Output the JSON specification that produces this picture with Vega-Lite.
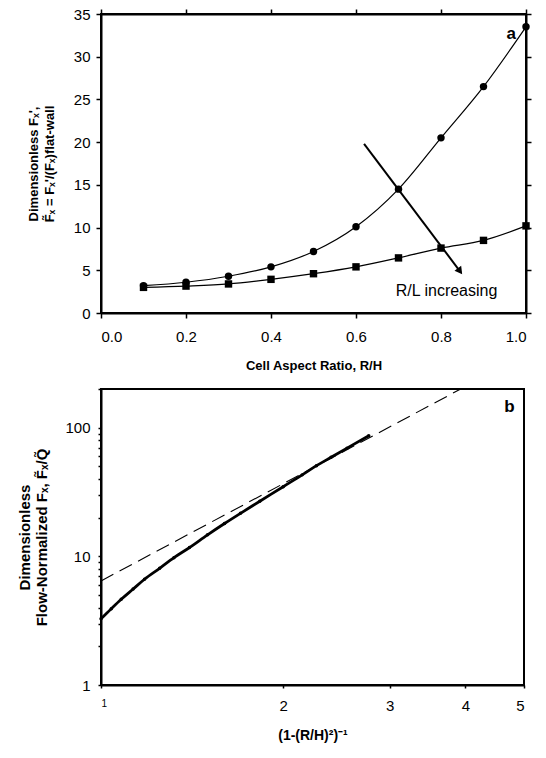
{
  "$schema": "https://vega.github.io/schema/vega-lite/v6.json",
  "background": "white",
  "padding": {"left": 16, "top": 6, "right": 5, "bottom": 5},
  "bounds": "flush",
  "spacing": 76,
  "config": {
    "font": "Liberation Sans",
    "view": {"stroke": "black", "strokeWidth": 2},
    "axis": {
      "domainColor": "black", "domainWidth": 2, "tickColor": "black", "tickWidth": 1.5,
      "tickSize": 5, "labelColor": "black", "labelFont": "Liberation Sans", "labelFontSize": 15,
      "titleColor": "black", "titleFont": "Liberation Sans", "titleFontWeight": "bold", "grid": false
    }
  },
  "vconcat": [
    {
      "width": 425,
      "height": 299,
      "data": {"values": [
        {"r": 0.1, "f": 3.2, "series": "upper"},
        {"r": 0.2, "f": 3.6, "series": "upper"},
        {"r": 0.3, "f": 4.3, "series": "upper"},
        {"r": 0.4, "f": 5.4, "series": "upper"},
        {"r": 0.5, "f": 7.2, "series": "upper"},
        {"r": 0.6, "f": 10.1, "series": "upper"},
        {"r": 0.7, "f": 14.5, "series": "upper"},
        {"r": 0.8, "f": 20.5, "series": "upper"},
        {"r": 0.9, "f": 26.5, "series": "upper"},
        {"r": 1.0, "f": 33.5, "series": "upper"},
        {"r": 0.1, "f": 3.0, "series": "lower"},
        {"r": 0.2, "f": 3.15, "series": "lower"},
        {"r": 0.3, "f": 3.4, "series": "lower"},
        {"r": 0.4, "f": 3.94, "series": "lower"},
        {"r": 0.5, "f": 4.6, "series": "lower"},
        {"r": 0.6, "f": 5.4, "series": "lower"},
        {"r": 0.7, "f": 6.45, "series": "lower"},
        {"r": 0.8, "f": 7.6, "series": "lower"},
        {"r": 0.9, "f": 8.5, "series": "lower"},
        {"r": 1.0, "f": 10.2, "series": "lower"}
      ]},
      "layer": [
        {
          "mark": {"type": "line", "interpolate": "monotone", "color": "black", "strokeWidth": 1.2},
          "encoding": {
            "x": {"field": "r", "type": "quantitative", "scale": {"domain": [0, 1], "nice": false},
              "axis": {"orient": "bottom", "values": [0, 0.2, 0.4, 0.6, 0.8, 1.0], "format": ".1f",
                "labelPadding": 11, "title": "Cell Aspect Ratio, R/H", "titleFontSize": 13, "titlePadding": 15}},
            "y": {"field": "f", "type": "quantitative", "scale": {"domain": [0, 35], "nice": false},
              "axis": {"orient": "left", "values": [0, 5, 10, 15, 20, 25, 30, 35], "labelPadding": 6,
                "title": ["Dimensionless Fₓ',", "F̃ₓ = Fₓ'/(Fₓ)flat-wall"], "titleFontSize": 13, "titlePadding": 17, "titleLineHeight": 16}},
            "detail": {"field": "series", "type": "nominal"}
          }
        },
        {
          "mark": {"type": "point", "filled": true, "color": "black", "opacity": 1},
          "encoding": {
            "x": {"field": "r", "type": "quantitative",
              "axis": {"orient": "top", "values": [0, 0.2, 0.4, 0.6, 0.8, 1.0], "labels": false, "title": null}},
            "y": {"field": "f", "type": "quantitative",
              "axis": {"orient": "right", "values": [0, 5, 10, 15, 20, 25, 30, 35], "labels": false, "title": null}},
            "shape": {"field": "series", "type": "nominal", "scale": {"domain": ["upper", "lower"], "range": ["circle", "square"]}, "legend": null},
            "size": {"value": 55}
          }
        },
        {
          "data": {"values": [{"x": 0.619, "y": 19.8, "x2": 0.843, "y2": 5.0}]},
          "mark": {"type": "rule", "color": "black", "strokeWidth": 2},
          "encoding": {
            "x": {"field": "x", "type": "quantitative", "axis": null},
            "y": {"field": "y", "type": "quantitative", "axis": null},
            "x2": {"field": "x2"},
            "y2": {"field": "y2"}
          }
        },
        {
          "data": {"values": [{"x": 0.843, "y": 5.0}]},
          "mark": {"type": "point", "shape": "triangle", "filled": true, "color": "black", "opacity": 1, "size": 70, "angle": 143},
          "encoding": {
            "x": {"field": "x", "type": "quantitative", "axis": null},
            "y": {"field": "y", "type": "quantitative", "axis": null}
          }
        },
        {
          "data": {"values": [{"x": 0.813, "y": 2.6, "t": "R/L increasing"}]},
          "mark": {"type": "text", "fontSize": 16, "color": "black", "align": "center", "baseline": "middle"},
          "encoding": {
            "x": {"field": "x", "type": "quantitative", "axis": null},
            "y": {"field": "y", "type": "quantitative", "axis": null},
            "text": {"field": "t"}
          }
        },
        {
          "data": {"values": [{"x": 0.965, "y": 32.7, "t": "a"}]},
          "mark": {"type": "text", "fontSize": 17, "fontWeight": "bold", "color": "black", "align": "center", "baseline": "middle"},
          "encoding": {
            "x": {"field": "x", "type": "quantitative", "axis": null},
            "y": {"field": "y", "type": "quantitative", "axis": null},
            "text": {"field": "t"}
          }
        }
      ],
      "resolve": {"axis": {"x": "independent", "y": "independent"}}
    },
    {
      "width": 423,
      "height": 296,
      "data": {"values": [
        {"x": 1.0, "y": 6.44, "series": "asymptote"},
        {"x": 3.93, "y": 200, "series": "asymptote"},
        {"x": 1.0, "y": 3.27, "series": "exact"},
        {"x": 1.04, "y": 3.92, "series": "exact"},
        {"x": 1.08, "y": 4.64, "series": "exact"},
        {"x": 1.13, "y": 5.57, "series": "exact"},
        {"x": 1.18, "y": 6.64, "series": "exact"},
        {"x": 1.25, "y": 8.07, "series": "exact"},
        {"x": 1.32, "y": 9.77, "series": "exact"},
        {"x": 1.4, "y": 11.7, "series": "exact"},
        {"x": 1.5, "y": 14.7, "series": "exact"},
        {"x": 1.6, "y": 18.0, "series": "exact"},
        {"x": 1.7, "y": 21.6, "series": "exact"},
        {"x": 1.83, "y": 26.8, "series": "exact"},
        {"x": 2.0, "y": 34.8, "series": "exact"},
        {"x": 2.15, "y": 43.0, "series": "exact"},
        {"x": 2.27, "y": 50.7, "series": "exact"},
        {"x": 2.4, "y": 58.9, "series": "exact"},
        {"x": 2.55, "y": 69.4, "series": "exact"},
        {"x": 2.77, "y": 86.7, "series": "exact"}
      ]},
      "layer": [
        {
          "transform": [{"filter": "datum.series === 'asymptote'"}],
          "mark": {"type": "line", "color": "black", "strokeWidth": 1.1, "strokeDash": [14, 7]},
          "encoding": {
            "x": {"field": "x", "type": "quantitative", "scale": {"type": "log", "domain": [1, 5], "nice": false},
              "axis": {"values": [1, 2, 3, 4, 5], "format": "d", "tickSize": 3, "labelPadding": 10,
                "labelFontSize": {"condition": {"test": "datum.value === 1", "value": 10}, "value": 15},
                "title": "(1-(R/H)²)⁻¹", "titleFontSize": 14, "titlePadding": 15}},
            "y": {"field": "y", "type": "quantitative", "scale": {"type": "log", "domain": [1, 200], "nice": false},
              "axis": {"values": [1, 2, 3, 4, 5, 6, 7, 8, 9, 10, 20, 30, 40, 50, 60, 70, 80, 90, 100, 200],
                "labelExpr": "datum.value === 1 || datum.value === 10 || datum.value === 100 ? datum.label : ''",
                "format": "d", "tickSize": 3, "labelPadding": 8,
                "title": ["Dimensionless", "Flow-Normalized Fₓ, F̃ₓ/Q̃"], "titleFontSize": 15, "titlePadding": 15, "titleLineHeight": 17}}
          }
        },
        {
          "transform": [{"filter": "datum.series === 'exact'"}],
          "mark": {"type": "line", "interpolate": "monotone", "color": "black", "strokeWidth": 2.8},
          "encoding": {
            "x": {"field": "x", "type": "quantitative"},
            "y": {"field": "y", "type": "quantitative"}
          }
        },
        {
          "transform": [{"filter": "datum.series === 'exact'"}],
          "mark": {"type": "point", "filled": true, "color": "black", "opacity": 1, "size": 12},
          "encoding": {
            "x": {"field": "x", "type": "quantitative"},
            "y": {"field": "y", "type": "quantitative"}
          }
        },
        {
          "data": {"values": [{"x": 4.73, "y": 146, "t": "b"}]},
          "mark": {"type": "text", "fontSize": 17, "fontWeight": "bold", "color": "black", "align": "center", "baseline": "middle"},
          "encoding": {
            "x": {"field": "x", "type": "quantitative"},
            "y": {"field": "y", "type": "quantitative"},
            "text": {"field": "t"}
          }
        }
      ]
    }
  ]
}
